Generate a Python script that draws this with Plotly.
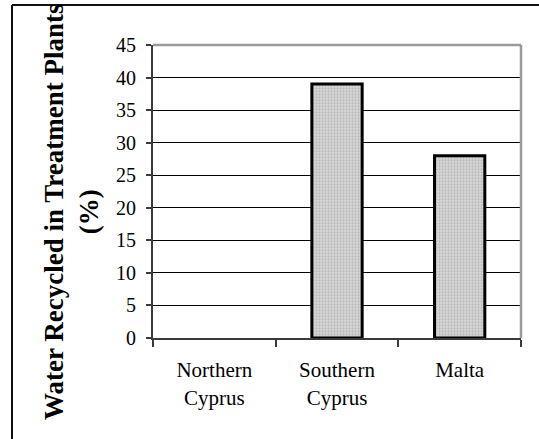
import plotly.graph_objects as go

# Share of water recycled in treatment plants (%)
countries = ["Northern<br>Cyprus", "Southern<br>Cyprus", "Malta"]
recycled_pct = [0, 39, 28]
y_ticks = [0, 5, 10, 15, 20, 25, 30, 35, 40, 45]

W, H = 539, 439
L, R, T, B = 153, 18, 45, 101
pw, ph = W - L - R, H - T - B

def px_x(x):
    return (x - L) / pw

def px_y(y):
    return (H - B - y) / ph

serif = "Liberation Serif, Times New Roman, serif"

# no outline on an empty (zero-height) bar
outline_w = [3 if v > 0 else 0 for v in recycled_pct]

fig = go.Figure(
    go.Bar(
        x=countries,
        y=recycled_pct,
        width=0.41,
        marker=dict(
            color="#d4d4d4",
            line=dict(color="black", width=outline_w),
            pattern=dict(shape=".", fgcolor="#9a9a9a", bgcolor="#dadada",
                         size=3, solidity=0.45),
        ),
        hoverinfo="x+y",
    )
)

fig.update_layout(
    width=W,
    height=H,
    margin=dict(l=L, r=R, t=T, b=B),
    paper_bgcolor="white",
    plot_bgcolor="white",
    showlegend=False,
    font=dict(family=serif, color="black"),
    bargap=0.59,
)

fig.update_xaxes(
    type="category",
    showgrid=False,
    showline=True,
    linecolor="#3a3a3a",
    linewidth=2,
    ticks="outside",
    tickson="boundaries",
    ticklen=7,
    tickwidth=1.5,
    tickcolor="#3a3a3a",
    tickfont=dict(size=21, family=serif, color="black"),
    ticklabelstandoff=12,
)

fig.update_yaxes(
    range=[0, 45],
    tickvals=y_ticks,
    showgrid=True,
    gridcolor="black",
    gridwidth=1,
    zeroline=False,
    showline=True,
    linecolor="#3a3a3a",
    linewidth=2,
    ticks="outside",
    ticklen=5,
    tickwidth=1.5,
    tickcolor="#3a3a3a",
    tickfont=dict(size=20, family=serif, color="black"),
    ticklabelstandoff=6,
)

# grey frame on the top and right of the plotting area
fig.add_shape(type="line", xref="paper", yref="paper", x0=0, x1=1, y0=1, y1=1,
              line=dict(color="#9a9a9a", width=2.5), layer="above")
fig.add_shape(type="line", xref="paper", yref="paper", x0=1, x1=1, y0=0, y1=1,
              line=dict(color="#9a9a9a", width=2.5), layer="above")

# outer chart border (top and left edges)
fig.add_shape(type="line", xref="paper", yref="paper",
              x0=px_x(12), x1=px_x(539), y0=px_y(5), y1=px_y(5),
              line=dict(color="#111111", width=2), layer="above")
fig.add_shape(type="line", xref="paper", yref="paper",
              x0=px_x(12), x1=px_x(12), y0=px_y(5), y1=px_y(439),
              line=dict(color="#111111", width=2), layer="above")

fig.add_annotation(
    text="Water Recycled in Treatment Plants<br>(%)",
    xref="paper", yref="paper",
    x=px_x(71), y=px_y(212),
    xanchor="center", yanchor="middle",
    textangle=-90,
    showarrow=False,
    font=dict(size=27, family=serif, color="black", weight="bold"),
)

# keep the page from scrolling
page_js = (
    "document.documentElement.style.overflow='hidden';"
    "document.body.style.overflow='hidden';"
    "document.body.style.margin='0';"
)

fig.write_html("out.html", post_script=page_js)
